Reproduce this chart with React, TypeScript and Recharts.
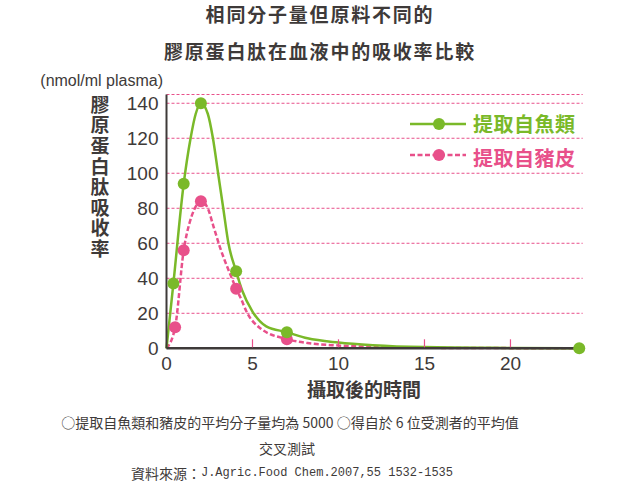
import {
  ComposedChart,
  Line,
  Scatter,
  XAxis,
  YAxis,
  CartesianGrid,
} from "recharts";

// curve points (time in hours, nmol/ml plasma)
const fishCurve = [
  { x: 0, y: 0 }, { x: 0.4, y: 37 }, { x: 1, y: 94 }, { x: 1.4, y: 120 },
  { x: 1.7, y: 134 }, { x: 2, y: 140 }, { x: 2.4, y: 134 }, { x: 2.7, y: 120 },
  { x: 3.0, y: 100 }, { x: 3.3, y: 80 }, { x: 3.6, y: 60 }, { x: 4.05, y: 44 },
  { x: 4.4, y: 33 }, { x: 5.0, y: 21 }, { x: 5.8, y: 12.5 }, { x: 7, y: 9.2 },
  { x: 8.2, y: 5.7 }, { x: 10, y: 3.3 }, { x: 12, y: 1.8 }, { x: 15, y: 0.7 },
  { x: 20, y: 0.2 }, { x: 24, y: 0 },
];
const porkCurve = [
  { x: 0, y: 0 }, { x: 0.5, y: 12 }, { x: 1, y: 56 }, { x: 1.35, y: 72 },
  { x: 1.6, y: 79 }, { x: 2, y: 84 }, { x: 2.4, y: 80 }, { x: 2.72, y: 70 },
  { x: 3.1, y: 58 }, { x: 3.8, y: 40 }, { x: 4.05, y: 34 }, { x: 4.3, y: 29 },
  { x: 4.7, y: 20 }, { x: 5.45, y: 11.5 }, { x: 7, y: 5.2 }, { x: 8.2, y: 3 },
  { x: 10, y: 1.6 }, { x: 12, y: 0.8 }, { x: 15, y: 0.3 }, { x: 20, y: 0.1 },
  { x: 24, y: 0 },
];
// measured points (markers)
const fishPoints = [
  { x: 0.4, y: 37 }, { x: 1, y: 94 }, { x: 2, y: 140 },
  { x: 4.05, y: 44 }, { x: 7, y: 9.2 }, { x: 24, y: 0 },
];
const porkPoints = [
  { x: 0.5, y: 12 }, { x: 1, y: 56 }, { x: 2, y: 84 },
  { x: 4.05, y: 34 }, { x: 7, y: 5.2 },
];
const xTicks = [0, 5, 10, 15, 20];
const yTicks = [0, 20, 40, 60, 80, 100, 120, 140];

const GREEN = "#7ab929";
const PINK = "#e8508a";
const INK = "#3e3a39";
const yLabel = "膠原蛋白肽吸收率";

function XTick(props: any) {
  const { x, y, payload } = props;
  return (
    <g>
      {payload.value !== 0 && (
        <line x1={x} x2={x} y1={y - 9} y2={y - 1} stroke={PINK} strokeWidth={1.2} />
      )}
      <text x={x} y={y + 22} textAnchor="middle" fontSize={19}
        fontFamily="Liberation Sans, Arial, sans-serif" fill={INK}>
        {payload.value}
      </text>
    </g>
  );
}

const dot = (color: string) => (p: any) => (
  <circle cx={p.cx} cy={p.cy} r={6} fill={color} />
);

export default function App() {
  return (
    <div style={{ position: "absolute", left: 0, top: 0, width: 630, height: 482, background: "#fff" }}>
      <ComposedChart width={630} height={482}
        margin={{ top: 94.5, right: 47.3, left: 106.5, bottom: 103.7 }}>
        <CartesianGrid vertical={false} stroke={PINK} strokeDasharray="3 2" strokeWidth={1} />
        <XAxis type="number" dataKey="x" domain={[0, 24.2]} ticks={xTicks}
          height={30} tickSize={0} tickMargin={0} tickLine={false}
          axisLine={{ stroke: INK, strokeWidth: 2.5 }} tick={<XTick />} />
        <YAxis type="number" dataKey="y" domain={[0, 145]} ticks={yTicks}
          width={60} tickLine={false} axisLine={{ stroke: INK, strokeWidth: 2 }}
          tick={{ fontSize: 19, fill: INK, fontFamily: "Liberation Sans, Arial, sans-serif" }} />
        <Line data={porkCurve} dataKey="y" type="monotone" stroke={PINK} strokeWidth={2.5}
          strokeDasharray="5 2.5" dot={false} isAnimationActive={false} />
        <Line data={fishCurve} dataKey="y" type="monotone" stroke={GREEN} strokeWidth={2.5}
          dot={false} isAnimationActive={false} />
        <Scatter data={porkPoints} dataKey="y" shape={dot(PINK)} isAnimationActive={false} />
        <Scatter data={fishPoints} dataKey="y" shape={dot(GREEN)} isAnimationActive={false} />
      </ComposedChart>
      <svg width={630} height={482} style={{ position: "absolute", left: 0, top: 0, pointerEvents: "none" }}>
        <g fontFamily="Noto Sans CJK TC, sans-serif" fontWeight="bold" fill={INK} fontSize={19}
          textAnchor="middle" letterSpacing={1.8}>
          <text x={320} y={13} dominantBaseline="central">相同分子量但原料不同的</text>
          <text x={320} y={50} dominantBaseline="central">膠原蛋白肽在血液中的吸收率比較</text>
        </g>
        <text x={163} y={86} textAnchor="end" fontSize={16} fill={INK}
          fontFamily="Liberation Sans, Arial, sans-serif">(nmol/ml plasma)</text>
        {/* vertical axis title */}
        <text x={100} y={95} fontFamily="Noto Sans CJK TC, sans-serif" fontWeight="bold" fill={INK}
          fontSize={19} letterSpacing={1.6} style={{ writingMode: "vertical-rl" }}>
          {yLabel}
        </text>
        <text x={364} y={388} textAnchor="middle" dominantBaseline="central" fontSize={19}
          fontWeight="bold" fill={INK} fontFamily="Noto Sans CJK TC, sans-serif">攝取後的時間</text>
        {/* legend */}
        <line x1={410} x2={466} y1={124} y2={124} stroke={GREEN} strokeWidth={2.5} />
        <circle cx={439} cy={124} r={6} fill={GREEN} />
        <text x={473} y={123} dominantBaseline="central" fontSize={20} fontWeight="bold"
          fill={GREEN} fontFamily="Noto Sans CJK TC, sans-serif" letterSpacing={0.5}>提取自魚類</text>
        <line x1={410} x2={466} y1={155} y2={155} stroke={PINK} strokeWidth={2.5} strokeDasharray="5 2.5" />
        <circle cx={439} cy={155} r={6} fill={PINK} />
        <text x={473} y={157} dominantBaseline="central" fontSize={20} fontWeight="bold"
          fill={PINK} fontFamily="Noto Sans CJK TC, sans-serif" letterSpacing={0.5}>提取自豬皮</text>
        {/* notes */}
        <g fontFamily="Noto Sans CJK TC, sans-serif" fontSize={14} fill={INK} textAnchor="middle">
          <text x={290} y={422} dominantBaseline="central">○提取自魚類和豬皮的平均分子量均為 5000 ○得自於 6 位受測者的平均值</text>
          <text x={287} y={448} dominantBaseline="central">交叉測試</text>
          <text x={292} y={473} dominantBaseline="central">
            資料來源：<tspan fontFamily="Liberation Mono, monospace" fontSize={12}>J.Agric.Food Chem.2007,55 1532-1535</tspan>
          </text>
        </g>
      </svg>
    </div>
  );
}
